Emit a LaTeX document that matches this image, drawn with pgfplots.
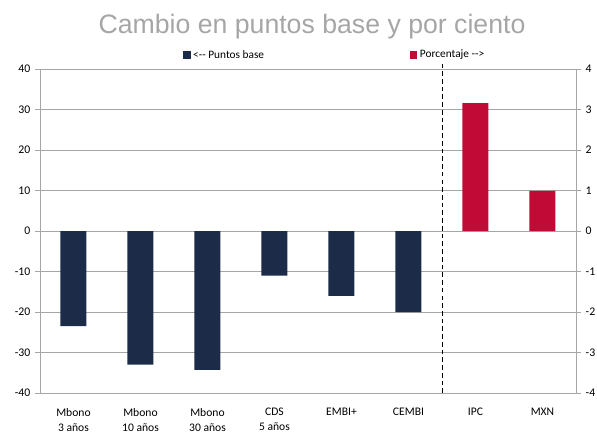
\documentclass[border=0pt]{standalone}
\usepackage{pgfplots}
\pgfplotsset{compat=1.18}
\usepackage{fontspec}
\setmainfont{Carlito}
\newfontfamily\arialfont{Liberation Sans}
\definecolor{navy}{HTML}{1B2B48}
\definecolor{crimson}{HTML}{C20A36}
\definecolor{gridgray}{HTML}{A6A6A6}
\definecolor{titlegray}{HTML}{A6A6A6}
\begin{document}
\begin{tikzpicture}
\pgfplotsset{
  common/.style={
    scale only axis, width=402pt, height=243pt,
    xmin=-0.5, xmax=7.5, at={(0,0)}, anchor=south west,
    axis line style={gridgray, line width=0.6pt},
    tick style={gridgray, line width=0.6pt},
    tick align=outside, major tick length=3.75pt,
    /pgf/number format/assume math mode=true,
    yticklabel style={font=\fontsize{8.8}{10}\selectfont, text=black},
    clip=false,
  },
  sqlegend/.style={legend image code/.code={\fill[##1] (0pt,-2.7pt) rectangle (5.4pt,2.7pt);}},
}
\begin{axis}[common,
  ymin=-40, ymax=40, ytick={-40,-30,...,40},
  ytick pos=left,
  ymajorgrids, grid style={gridgray, line width=0.6pt},
  xtick={0,...,7},
  xticklabels={{Mbono\\3 años},{Mbono\\10 años},{Mbono\\30 años},{CDS\\5 años},EMBI+,CEMBI,IPC,MXN},
  xticklabel style={align=center, font=\fontsize{8.7}{11.2}\selectfont, text=black, anchor=north, yshift=-4pt},
  major x tick style={draw=none},
  legend style={at={(0.267,1.043)}, anchor=west, draw=none, fill=none,
    font=\fontsize{8.5}{10}\selectfont, inner sep=0pt, legend cell align=left},
]
\addplot[ybar, bar width=19.5pt, fill=navy, draw=none, sqlegend]
  coordinates {(0,-23.5) (1,-33.0) (2,-34.3) (3,-11.0) (4,-16.0) (5,-20.0)};
\addlegendentry{<-{}- Puntos base}
\end{axis}
\begin{axis}[common,
  ymin=-4, ymax=4, ytick={-4,-3,...,4},
  axis y line*=right, axis x line=none,
  legend style={at={(0.69,1.043)}, anchor=west, draw=none, fill=none,
    font=\fontsize{8.5}{10}\selectfont, inner sep=0pt, legend cell align=left},
]
\addplot[ybar, bar width=19.5pt, fill=crimson, draw=none, sqlegend]
  coordinates {(6,3.16) (7,0.99)};
\addlegendentry{Porcentaje -{}->}
\addplot[black, line width=0.7pt, dash pattern=on 3.5pt off 2.3pt, forget plot]
  coordinates {(5.5,-4) (5.5,4.17)};
\end{axis}
\node[anchor=base, text=titlegray, font=\arialfont\fontsize{20}{24}\selectfont, inner sep=0pt] at (204pt,269.25pt) {Cambio en puntos base y por ciento};
\pgfresetboundingbox
\path[use as bounding box] (-30pt,-30pt) rectangle (417.75pt,294.75pt);
\end{tikzpicture}
\end{document}
